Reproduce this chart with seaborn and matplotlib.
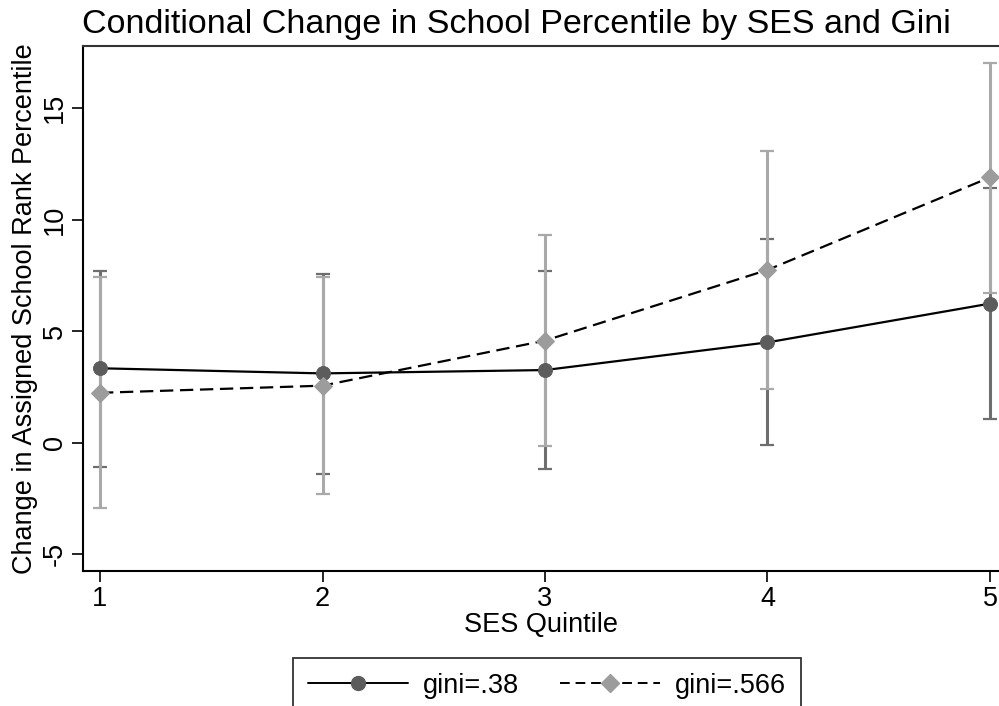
import numpy as np
import pandas as pd
import seaborn as sns
import matplotlib.pyplot as plt
from matplotlib.lines import Line2D

# values
quintiles = [1, 2, 3, 4, 5]
gini_labels = ['gini=.38', 'gini=.566']
est_low = [3.33, 3.10, 3.25, 4.49, 6.23]
lo_low = [-1.08, -1.40, -1.20, -0.13, 1.04]
hi_low = [7.70, 7.55, 7.70, 9.13, 11.43]
est_high = [2.23, 2.55, 4.57, 7.74, 11.89]
lo_high = [-2.92, -2.30, -0.16, 2.39, 6.70]
hi_high = [7.43, 7.40, 9.32, 13.07, 17.04]

df = pd.DataFrame({
    'quintile': quintiles * 2,
    'est': est_low + est_high,
    'lo': lo_low + lo_high,
    'hi': hi_low + hi_high,
    'gini': [gini_labels[0]] * 5 + [gini_labels[1]] * 5,
})

sns.set_style('ticks')
plt.rcParams['font.family'] = ['Liberation Sans', 'DejaVu Sans']
plt.rcParams['text.color'] = 'black'
plt.rcParams['axes.labelcolor'] = 'black'

fig = plt.figure(figsize=(9.99, 7.06), dpi=100)
W, H = 999, 706
ax = fig.add_axes([83 / W, 1 - 571 / H, (999 - 83) / W, (571 - 46) / H])

ci_colors = {gini_labels[0]: '#6e6e6e', gini_labels[1]: '#a9a9a9'}
mk_colors = {gini_labels[0]: '#5c5c5c', gini_labels[1]: '#9c9c9c'}

# confidence intervals first (light one on top)
for g in gini_labels:
    d = df[df['gini'] == g]
    ax.errorbar(d['quintile'], d['est'],
                yerr=[d['est'] - d['lo'], d['hi'] - d['est']],
                fmt='none', ecolor=ci_colors[g], elinewidth=2.2,
                capsize=5, capthick=1.6, zorder=2)

sns.lineplot(data=df, x='quintile', y='est', style='gini',
             markers={gini_labels[0]: 'o', gini_labels[1]: 'D'},
             dashes={gini_labels[0]: '', gini_labels[1]: (6, 3)},
             color='black', linewidth=1.6, markersize=10,
             ax=ax, legend=False, zorder=3)

# recolour the markers
for line, g in zip(ax.lines[-2:], gini_labels):
    line.set_markerfacecolor(mk_colors[g])
    line.set_markeredgecolor(mk_colors[g])
ax.lines[-1].set_markersize(9)

fs = 19.5
ax.set_xlim(1 - 17 / 222.5, 5 + 9 / 222.5)
ax.set_ylim(-5.76, 17.78)
ax.set_xticks(quintiles)
ax.set_yticks([-5, 0, 5, 10, 15])
ax.set_yticklabels(['-5', '0', '5', '10', '15'], rotation=90, va='center')
ax.tick_params(labelsize=fs, length=8, width=1.2, colors='black', pad=3)
for s in ['left', 'bottom', 'top']:
    ax.spines[s].set_linewidth(1.5)
    ax.spines[s].set_color('black')
ax.spines['right'].set_visible(False)
ax.spines['top'].set_color('#333333')

ax.set_xlabel('SES Quintile', fontsize=fs, labelpad=0)
ax.set_ylabel('Change in Assigned School Rank Percentile', fontsize=fs, labelpad=3)
fig.text(82 / W, 1 - 33 / H, 'Conditional Change in School Percentile by SES and Gini',
         fontsize=24.5, va='baseline', ha='left', color='black')

handles = [
    Line2D([], [], color='black', lw=1.4, marker='o', markersize=10,
           markerfacecolor=mk_colors[gini_labels[0]], markeredgecolor=mk_colors[gini_labels[0]]),
    Line2D([], [], color='black', lw=1.4, ls=(0, (5, 3)), marker='D', markersize=9,
           markerfacecolor=mk_colors[gini_labels[1]], markeredgecolor=mk_colors[gini_labels[1]]),
]
leg = fig.legend(handles, gini_labels, loc='upper left',
                 bbox_to_anchor=(293 / W, 1 - 658 / H), ncol=2, fontsize=fs,
                 handlelength=3.7, handletextpad=0.55, columnspacing=1.5,
                 frameon=True, fancybox=False, borderpad=0.55, borderaxespad=0,
                 edgecolor='black')
leg.get_frame().set_linewidth(1.3)

fig.savefig('out.png', dpi=100)
